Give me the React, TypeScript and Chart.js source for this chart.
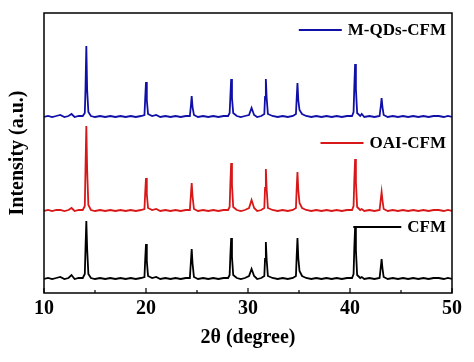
import { useEffect, useRef } from 'react';
import { Chart, registerables } from 'chart.js';

Chart.register(...registerables);

const FONT = "'Liberation Serif', 'Times New Roman', Times, serif";

// 2θ positions (degree) shared by the three patterns
const twoTheta = [
  10, 10.4, 10.8, 11.2, 11.6, 12.0, 12.4, 12.7, 13.0, 13.4,
  13.8, 14.0, 14.07, 14.15, 14.23, 14.35, 14.6, 15.0, 15.5, 16.0,
  16.5, 17.0, 17.5, 18.0, 18.5, 19.0, 19.5, 19.85, 19.92, 20.0,
  20.08, 20.2, 20.6, 21.0, 21.4, 21.9, 22.4, 22.9, 23.4, 23.9,
  24.3, 24.4, 24.48, 24.56, 24.7, 25.1, 25.6, 26.1, 26.6, 27.1,
  27.6, 28.05, 28.2, 28.27, 28.35, 28.43, 28.55, 28.9, 29.3, 29.7,
  30.1, 30.35, 30.6, 30.9, 31.3, 31.6, 31.67, 31.75, 31.83, 31.95,
  32.4, 32.9, 33.4, 33.9, 34.4, 34.7, 34.77, 34.85, 34.93, 35.05,
  35.3, 35.7, 36.2, 36.7, 37.2, 37.7, 38.2, 38.7, 39.2, 39.7,
  40.2, 40.35, 40.42, 40.5, 40.58, 40.7, 41.0, 41.15, 41.4, 41.9,
  42.4, 42.9, 43.02, 43.1, 43.18, 43.3, 43.7, 44.2, 44.7, 45.2,
  45.7, 46.2, 46.7, 47.2, 47.7, 48.2, 48.7, 49.2, 49.6, 50,
];

// Intensity (a.u., stacked with offsets)
const mqdsCfm = [
  176, 177, 176, 177, 178, 176, 177, 179, 176, 177,
  177, 180, 205, 247, 203, 181, 177, 176, 177, 176,
  177, 176, 177, 176, 177, 176, 177, 178, 194, 211,
  193, 179, 177, 178, 176, 177, 176, 177, 176, 177,
  177, 187, 197, 186, 178, 176, 177, 176, 177, 176,
  177, 177, 180, 196, 214, 195, 180, 177, 176, 177,
  178, 185, 178, 176, 177, 179, 196, 214, 195, 179,
  177, 176, 177, 176, 177, 179, 194, 210, 193, 183,
  179, 177, 176, 177, 176, 177, 176, 177, 176, 177,
  177, 181, 205, 229, 204, 180, 177, 179, 176, 177,
  176, 177, 187, 195, 186, 178, 176, 177, 176, 177,
  176, 177, 176, 177, 176, 177, 177, 176, 177, 176,
];

const oaiCfm = [
  82, 83, 82, 83, 83, 82, 83, 85, 82, 83,
  83, 87, 125, 167, 123, 88, 83, 82, 83, 82,
  83, 82, 83, 82, 83, 82, 83, 84, 100, 115,
  99, 85, 83, 84, 82, 83, 82, 83, 82, 83,
  83, 98, 110, 97, 84, 82, 83, 82, 83, 82,
  83, 83, 86, 109, 130, 108, 86, 83, 82, 83,
  85, 93, 85, 82, 83, 85, 105, 124, 104, 85,
  83, 82, 83, 82, 83, 85, 104, 121, 103, 90,
  85, 83, 82, 83, 82, 83, 82, 83, 82, 83,
  83, 87, 112, 134, 111, 86, 83, 84, 82, 83,
  82, 83, 94, 101, 93, 84, 82, 83, 82, 83,
  82, 83, 82, 83, 82, 83, 83, 82, 83, 82,
];

const cfm = [
  14, 15, 14, 15, 16, 14, 15, 18, 14, 15,
  15, 19, 45, 72, 44, 19, 15, 14, 15, 14,
  15, 14, 15, 14, 15, 14, 15, 16, 33, 49,
  32, 17, 15, 16, 14, 15, 14, 15, 14, 15,
  15, 31, 44, 30, 16, 14, 15, 14, 15, 14,
  15, 15, 18, 37, 55, 36, 18, 15, 14, 15,
  17, 24, 17, 14, 15, 17, 34, 51, 33, 17,
  15, 14, 15, 14, 15, 17, 36, 55, 35, 22,
  17, 15, 14, 15, 14, 15, 14, 15, 14, 15,
  15, 19, 44, 66, 43, 18, 15, 16, 14, 15,
  14, 15, 26, 34, 25, 16, 14, 15, 14, 15,
  14, 15, 14, 15, 14, 15, 15, 14, 15, 14,
];

const xMajorTicks = [10, 20, 30, 40, 50];
const xMinorTicks = [15, 25, 35, 45];

const seriesNames = ['M-QDs-CFM', 'OAI-CFM', 'CFM'];
const seriesColors = ['#1010A8', '#D81818', '#000000'];
const seriesValues = [mqdsCfm, oaiCfm, cfm];

// legend placement: offset from chart-area top, line length
const legendOffsets = [17, 130, 214];
const legendLineLens = [43, 43, 48];

const decorPlugin = {
  id: 'decor',
  afterDatasetsDraw(chart: any) {
    const { ctx, chartArea } = chart;
    const xs = chart.scales.x;
    ctx.save();
    // frame
    ctx.strokeStyle = '#000';
    ctx.lineWidth = 1.5;
    ctx.strokeRect(chartArea.left, chartArea.top, chartArea.right - chartArea.left, chartArea.bottom - chartArea.top);
    // inward ticks on bottom
    ctx.lineWidth = 1.2;
    ctx.beginPath();
    xMajorTicks.forEach((v) => {
      const px = xs.getPixelForValue(v);
      ctx.moveTo(px, chartArea.bottom);
      ctx.lineTo(px, chartArea.bottom - 5);
    });
    xMinorTicks.forEach((v) => {
      const px = xs.getPixelForValue(v);
      ctx.moveTo(px, chartArea.bottom);
      ctx.lineTo(px, chartArea.bottom - 3);
    });
    ctx.stroke();
    // legend
    ctx.font = `bold 17px ${FONT}`;
    ctx.textBaseline = 'middle';
    ctx.textAlign = 'right';
    seriesNames.forEach((name, i) => {
      const y = chartArea.top + legendOffsets[i];
      const right = chartArea.right - 6;
      const w = ctx.measureText(name).width;
      ctx.fillStyle = '#000';
      ctx.fillText(name, right, y + 1);
      ctx.strokeStyle = seriesColors[i];
      ctx.lineWidth = 1.8;
      ctx.beginPath();
      ctx.moveTo(right - w - 6 - legendLineLens[i], y);
      ctx.lineTo(right - w - 6, y);
      ctx.stroke();
    });
    ctx.restore();
  },
};

export default function App() {
  const ref = useRef<HTMLCanvasElement>(null);
  useEffect(() => {
    const chart = new Chart(ref.current!, {
      type: 'line',
      data: {
        datasets: seriesNames.map((name, i) => ({
          label: name,
          data: twoTheta.map((x, j) => ({ x, y: seriesValues[i][j] })),
          borderColor: seriesColors[i],
          borderWidth: 1.8,
          pointRadius: 0,
          tension: 0,
          fill: false,
        })),
      },
      options: {
        animation: false,
        responsive: true,
        maintainAspectRatio: false,
        layout: { padding: { top: 13, right: 22, left: 0, bottom: 0 } },
        plugins: {
          legend: { display: false },
          tooltip: { enabled: false },
        },
        scales: {
          x: {
            type: 'linear',
            min: 10,
            max: 50,
            afterFit: (s: any) => { s.height = 69; },
            afterBuildTicks: (s: any) => { s.ticks = xMajorTicks.map((v) => ({ value: v })); },
            ticks: {
              color: '#000',
              font: { family: FONT, size: 20, weight: 'bold' },
              padding: 4,
              maxRotation: 0,
              autoSkip: false,
            },
            grid: { display: false, drawTicks: false },
            border: { display: false },
            title: {
              display: true,
              text: '2θ (degree)',
              color: '#000',
              font: { family: FONT, size: 20, weight: 'bold' },
              padding: { top: 0, bottom: 12 },
            },
          },
          y: {
            type: 'linear',
            min: 0,
            max: 280,
            afterFit: (s: any) => { s.width = 44; },
            ticks: { display: false },
            grid: { display: false, drawTicks: false },
            border: { display: false },
            title: {
              display: true,
              text: 'Intensity (a.u.)',
              color: '#000',
              font: { family: FONT, size: 20, weight: 'bold' },
              padding: { top: 6, bottom: 0 },
            },
          },
        },
      },
      plugins: [decorPlugin],
    });
    return () => chart.destroy();
  }, []);
  return (
    <div style={{ position: 'fixed', left: 0, top: 0, width: 474, height: 362, background: '#fff' }}>
      <canvas ref={ref} />
    </div>
  );
}
